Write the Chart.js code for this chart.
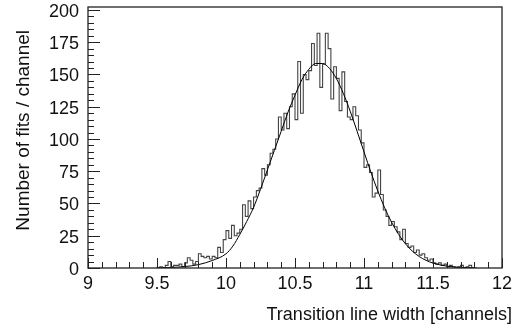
<!DOCTYPE html>
<html><head><meta charset="utf-8">
<script src="https://cdn.jsdelivr.net/npm/chart.js@4/dist/chart.umd.min.js"></script>
<style>html,body{margin:0;padding:0;background:#fff}#wrap{width:523px;height:328px;position:relative}</style>
</head><body><div id="wrap"><canvas id="c" width="523" height="328"></canvas></div>
<script>
// Histogram binning (channels)
const binStart = 9.50;
const binWidth = 0.02;
// Counts per bin
const counts = [
  1,0,1,0,2,5,1,2,2,3,
  1,4,8,6,3,5,11,9,8,9,
  7,9,8,16,12,22,29,23,33,25,
  27,30,49,40,52,46,55,60,62,77,
  72,80,89,92,100,117,107,120,108,125,
  135,115,160,120,150,146,153,174,157,182,
  140,158,182,170,131,156,147,122,152,129,
  117,115,125,118,107,97,78,80,74,55,
  58,76,57,45,40,33,36,32,28,22,
  30,19,16,17,12,14,10,11,8,6,
  7,4,3,4,2,3,1,2,1,0,
  1,2,0,1,2,0
];
// Fit curve
const fitX = [9.5,9.6,9.7,9.8,9.9,10.0,10.05,10.1,10.15,10.2,10.25,10.3,10.35,10.4,10.45,10.5,10.55,10.6,10.65,10.7,10.75,10.8,10.85,10.9,10.95,11.0,11.05,11.1,11.15,11.2,11.25,11.3,11.35,11.4,11.45,11.5,11.6,11.7,11.8];
const fitY = [0.1,0.4,1.1,2.6,5.8,11,17,26,36,47,61,76,91,106,121,134,146,154,158.5,158.5,154.7,146.8,135.4,121.5,106.0,90.0,74.3,59.7,46.6,35.4,26.2,18.8,13.1,8.9,5.9,3.8,1.44,0.49,0.15];
const xTicks = [9, 9.5, 10, 10.5, 11, 11.5, 12];
const yTicks = [0, 25, 50, 75, 100, 125, 150, 175, 200];
const xMinorStep = 0.1;
const yMinorStep = 5;
const xTitle = 'Transition line width [channels]';
const yTitle = 'Number of fits / channel';

const histPts = [{x: binStart, y: 0}];
counts.forEach((c, i) => histPts.push({x: +(binStart + i * binWidth).toFixed(2), y: c}));
histPts.push({x: +(binStart + counts.length * binWidth).toFixed(2), y: 0});
const fitPts = fitX.map((x, i) => ({x, y: fitY[i]}));

const FONT = '"Liberation Sans", Arial, Helvetica, sans-serif';

const frame = {
  id: 'frame',
  afterDraw(chart) {
    const ctx = chart.ctx, a = chart.chartArea;
    const xs = chart.scales.x, ys = chart.scales.y;
    ctx.save();
    ctx.strokeStyle = '#222';
    ctx.lineWidth = 1.3;
    ctx.strokeRect(a.left, a.top, a.right - a.left, a.bottom - a.top);
    ctx.lineWidth = 1;
    ctx.beginPath();
    for (let v = 0; v <= 200 + 1e-6; v += yMinorStep) {
      const y = Math.round(ys.getPixelForValue(v)) + 0.5;
      const len = (v % 25 === 0) ? 12 : 6;
      ctx.moveTo(a.left, y); ctx.lineTo(a.left + len, y);
    }
    for (let k = 0; k <= 30; k++) {
      const v = 9 + k * xMinorStep;
      const x = Math.round(xs.getPixelForValue(v)) + 0.5;
      const len = (k % 5 === 0) ? 10 : 6;
      ctx.moveTo(x, a.bottom); ctx.lineTo(x, a.bottom - len);
    }
    ctx.stroke();
    ctx.fillStyle = '#111';
    ctx.font = '18px ' + FONT;
    ctx.textAlign = 'right';
    ctx.textBaseline = 'alphabetic';
    ctx.fillText(xTitle, 512, 320);
    ctx.save();
    ctx.translate(29, 30);
    ctx.rotate(-Math.PI / 2);
    ctx.font = '19px ' + FONT;
    ctx.textAlign = 'right';
    ctx.fillText(yTitle, 0, 0);
    ctx.restore();
    ctx.restore();
  }
};

new Chart(document.getElementById('c'), {
  type: 'line',
  data: {
    datasets: [
      {data: fitPts, borderColor: '#000', borderWidth: 1, pointRadius: 0, cubicInterpolationMode: 'monotone', order: 0, fill: false},
      {data: histPts, borderColor: '#444', borderWidth: 1.1, pointRadius: 0, stepped: 'after', order: 1, fill: false}
    ]
  },
  options: {
    responsive: false,
    animation: false,
    events: [],
    layout: {padding: {top: 7, right: 21, left: 0, bottom: 0}},
    plugins: {legend: {display: false}, tooltip: {enabled: false}},
    scales: {
      x: {
        type: 'linear', min: 9, max: 12,
        afterBuildTicks: s => { s.ticks = xTicks.map(v => ({value: v})); },
        afterFit: s => { s.height = 60; s.paddingLeft = 0; s.paddingRight = 0; },
        grid: {display: false, drawTicks: false},
        border: {display: false},
        ticks: {color: '#111', padding: 5, maxRotation: 0, autoSkip: false,
          font: {family: FONT, size: 18},
          callback: v => String(v)}
      },
      y: {
        type: 'linear', min: 0, max: 202.3,
        afterBuildTicks: s => { s.ticks = yTicks.map(v => ({value: v})); },
        afterFit: s => { s.width = 88; s.paddingTop = 0; s.paddingBottom = 0; },
        grid: {display: false, drawTicks: false},
        border: {display: false},
        ticks: {color: '#111', padding: 9, labelOffset: 2, autoSkip: false,
          font: {family: FONT, size: 18},
          callback: v => String(v)}
      }
    }
  },
  plugins: [frame]
});
</script>
</body></html>
